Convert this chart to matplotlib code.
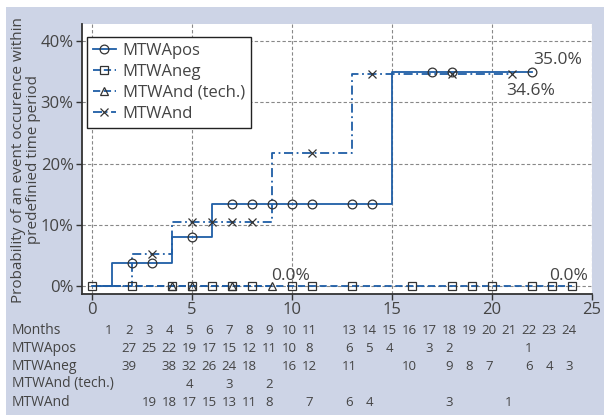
import matplotlib
matplotlib.use("Agg")
import matplotlib.pyplot as plt
from matplotlib.patches import Rectangle
from matplotlib.transforms import blended_transform_factory

plt.rcParams['font.family'] = ['Open Sans', 'DejaVu Sans']

# ---------------- data -----------------
# step curves (percent), value holds from each x until next x
pos_x = [0, 1, 4, 6, 15, 22]
pos_y = [0.0, 3.7, 8.0, 13.4, 35.0, 35.0]
pos_mx = [2, 3, 5, 7, 8, 9, 10, 11, 13, 14, 17, 18, 22]
pos_my = [3.7, 3.7, 8.0, 13.4, 13.4, 13.4, 13.4, 13.4, 13.4, 13.4, 35.0, 35.0, 35.0]

neg_x = [0, 24]
neg_y = [0.0, 0.0]
neg_mx = [0, 2, 4, 5, 6, 7, 8, 10, 11, 13, 16, 18, 19, 20, 22, 23, 24]

tech_x = [0, 9]
tech_y = [0.0, 0.0]
tech_mx = [4, 5, 7, 9]

nd_x = [0, 2, 4, 9, 13, 21]
nd_y = [0.0, 5.3, 10.4, 21.7, 34.6, 34.6]
nd_mx = [3, 5, 6, 7, 8, 11, 14, 18, 21]
nd_my = [5.3, 10.4, 10.4, 10.4, 10.4, 21.7, 34.6, 34.6, 34.6]

# numbers at risk
months = [1, 2, 3, 4, 5, 6, 7, 8, 9, 10, 11, 13, 14, 15, 16, 17, 18, 19, 20, 21, 22, 23, 24]
risk_rows = ["Months", "MTWApos", "MTWAneg", "MTWAnd (tech.)", "MTWAnd"]
risk_pos_x = [2, 3, 4, 5, 6, 7, 8, 9, 10, 11, 13, 14, 15, 17, 18, 22]
risk_pos = [27, 25, 22, 19, 17, 15, 12, 11, 10, 8, 6, 5, 4, 3, 2, 1]
risk_neg_x = [2, 4, 5, 6, 7, 8, 10, 11, 13, 16, 18, 19, 20, 22, 23, 24]
risk_neg = [39, 38, 32, 26, 24, 18, 16, 12, 11, 10, 9, 8, 7, 6, 4, 3]
risk_tech_x = [5, 7, 9]
risk_tech = [4, 3, 2]
risk_nd_x = [3, 4, 5, 6, 7, 8, 9, 11, 13, 14, 18, 21]
risk_nd = [19, 18, 17, 15, 13, 11, 8, 7, 6, 4, 3, 1]

# ---------------- figure -----------------
W, H = 604, 418
fig = plt.figure(figsize=(W / 100, H / 100), dpi=100)
fig.patch.set_facecolor("white")
fig.patches.append(Rectangle((6 / W, 3 / H), 598 / W, 408 / H,
                             transform=fig.transFigure, facecolor="#cdd4e6",
                             edgecolor="none", zorder=-10))

ax = fig.add_axes([82 / W, 1 - 294 / H, 510 / W, 270 / H])
ax.set_facecolor("white")

blue = "#1f5ea6"
mk = "#333333"
txt = "#444444"
dash = (0, (4, 2))
dashdot = (0, (5, 2, 1, 2))

ax.plot(pos_x, pos_y, drawstyle="steps-post", color=blue, lw=1.3, ls="-")
ax.plot(neg_x, neg_y, drawstyle="steps-post", color=blue, lw=1.3, ls=dash)
ax.plot(tech_x, tech_y, drawstyle="steps-post", color=blue, lw=1.3, ls=dash)
ax.plot(nd_x, nd_y, drawstyle="steps-post", color=blue, lw=1.3, ls=dashdot)

ax.plot(pos_mx, pos_my, ls="none", marker="o", ms=6.3, mfc="none", mec=mk, mew=0.9)
ax.plot(neg_mx, [0] * len(neg_mx), ls="none", marker="s", ms=5.8, mfc="none", mec=mk, mew=0.9)
ax.plot(tech_mx, [0] * len(tech_mx), ls="none", marker="^", ms=5.3, mfc="none", mec=mk, mew=0.9)
ax.plot(nd_mx, nd_my, ls="none", marker="x", ms=5.5, mec=mk, mew=0.9)

# legend handles
h1, = ax.plot([], [], color=blue, lw=1.3, ls="-", marker="o", ms=6.3, mfc="none", mec=mk, mew=0.9)
h2, = ax.plot([], [], color=blue, lw=1.3, ls=dash, marker="s", ms=5.8, mfc="none", mec=mk, mew=0.9)
h3, = ax.plot([], [], color=blue, lw=1.3, ls=dash, marker="^", ms=5.3, mfc="none", mec=mk, mew=0.9)
h4, = ax.plot([], [], color=blue, lw=1.3, ls=dashdot, marker="x", ms=5.5, mec=mk, mew=0.9)
leg = ax.legend([h1, h2, h3, h4], ["MTWApos", "MTWAneg", "MTWAnd (tech.)", "MTWAnd"],
                loc="upper left", bbox_to_anchor=(87 / W, 1 - 37 / H),
                bbox_transform=fig.transFigure, borderaxespad=0,
                fancybox=False, edgecolor="#222222", framealpha=1,
                fontsize=12, handlelength=1.4, handletextpad=0.4,
                labelspacing=0.3, borderpad=0.35)
leg.get_frame().set_linewidth(1.0)
for t in leg.get_texts():
    t.set_color(txt)

# annotations
ax.text(23.3, 37.0, "35.0%", fontsize=12.5, color=txt, ha="center", va="center")
ax.text(21.95, 31.8, "34.6%", fontsize=12.5, color=txt, ha="center", va="center")
ax.text(9.95, 1.6, "0.0%", fontsize=12.5, color=txt, ha="center", va="center")
ax.text(23.85, 1.6, "0.0%", fontsize=12.5, color=txt, ha="center", va="center")

ax.set_xlim(-0.5, 25)
ax.set_ylim(-1.3, 42.8)
ax.set_xticks([0, 5, 10, 15, 20, 25])
ax.set_yticks([0, 10, 20, 30, 40])
ax.set_yticklabels(["0%", "10%", "20%", "30%", "40%"])
ax.tick_params(labelsize=12, colors=txt, direction="out", length=4, width=1, pad=2)
ax.tick_params(axis="both", color="#333333")
ax.grid(True, color="#888888", lw=0.8, ls=(0, (3, 2)))
ax.set_axisbelow(True)
for s in ["top", "right"]:
    ax.spines[s].set_visible(False)
for s in ["left", "bottom"]:
    ax.spines[s].set_color("#333333")
    ax.spines[s].set_linewidth(1.3)

fig.text(26 / W, 1 - 160 / H,
         "Probability of an event occurence within\npredefinied time period",
         rotation=90, ha="center", va="center", fontsize=11, color=txt,
         linespacing=1.0)

# number at risk table
tr = blended_transform_factory(ax.transData, fig.transFigure)
row_y = [330, 348, 366, 384, 402]
row_vals = [(months, months), (risk_pos_x, risk_pos), (risk_neg_x, risk_neg),
            (risk_tech_x, risk_tech), (risk_nd_x, risk_nd)]
for name, yy, (xs, vals) in zip(risk_rows, row_y, row_vals):
    fig.text(12 / W, 1 - yy / H, name, ha="left", va="center", fontsize=10, color=txt)
    for x, v in zip(xs, vals):
        ax.text(x - 0.15, 1 - yy / H, str(v), transform=tr, ha="center", va="center",
                fontsize=9.5, color=txt, clip_on=False)

fig.savefig("out.png", dpi=100)
